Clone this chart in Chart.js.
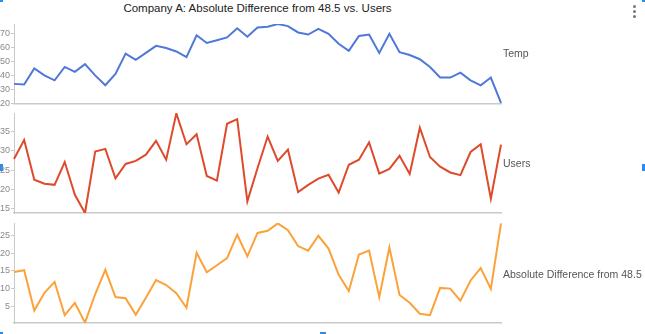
<!DOCTYPE html>
<html>
<head>
<meta charset="utf-8">
<script src="https://cdn.jsdelivr.net/npm/chart.js@4"></script>
<style>
  html, body { margin: 0; padding: 0; background: #fff; }
  body { width: 645px; height: 334px; position: relative; overflow: hidden; font-family: "Liberation Sans", Arial, sans-serif; }
  .panel { position: absolute; left: 0; width: 645px; }
  .title { position: absolute; left: 0; top: 1px; width: 515px; text-align: center; font-size: 11.5px; line-height: 14px; color: #222; }
  .dot { position: absolute; width: 3px; height: 3px; border-radius: 50%; background: #777; left: 633px; }
  .handle { position: absolute; background: #2a8cf0; }
</style>
</head>
<body>
<div class="title">Company A: Absolute Difference from 48.5 vs. Users</div>
<div class="dot" style="top:5px"></div>
<div class="dot" style="top:10px"></div>
<div class="dot" style="top:15px"></div>

<div class="handle" style="left:0;top:0;width:3px;height:2px"></div>
<div class="handle" style="left:642px;top:0;width:3px;height:2px"></div>
<div class="handle" style="left:0;top:164px;width:3px;height:7px"></div>
<div class="handle" style="left:642px;top:164px;width:3px;height:7px"></div>
<div class="handle" style="left:0;top:332px;width:3px;height:2px"></div>
<div class="handle" style="left:320px;top:332px;width:6px;height:2px"></div>

<div class="panel" style="top:0;height:110px"><canvas id="temp" width="645" height="110"></canvas></div>
<div class="panel" style="top:100px;height:120px"><canvas id="users" width="645" height="120"></canvas></div>
<div class="panel" style="top:212px;height:122px"><canvas id="diff" width="645" height="122"></canvas></div>

<script>
// Observation index along the shared horizontal axis
const categories = Array.from({ length: 49 }, (_, i) => String(i + 1));

const tempValues = [34, 33.5, 45, 40, 36.5, 46, 42.5, 48, 40, 33, 41, 55.5, 51, 56, 61, 59.5, 57, 53,
  68.5, 63, 65, 67, 73.5, 67.5, 74, 74.5, 76.5, 75, 70.5, 69, 73, 69.5, 62.5, 57.5, 68, 69, 56, 69.5,
  56.5, 54.5, 51.5, 46, 38.5, 38.5, 42, 36.5, 33, 38.5, 20.5];

const userValues = [27.9, 32.8, 22.5, 21.5, 21.2, 27.1, 18.6, 13.9, 29.8, 30.5, 22.9, 26.6, 27.4, 29,
  32.6, 27.7, 39.7, 31.7, 34.3, 23.5, 22.3, 37, 38.2, 16.9, 25.5, 33.7, 27.4, 30.3, 19.3, 21.2, 22.8,
  23.8, 19.2, 26.4, 27.7, 32.2, 24.1, 25.3, 28.7, 24, 36, 28.4, 25.9, 24.4, 23.7, 29.7, 31.7, 17.6, 31.6];

const diffValues = [14.7, 15.2, 3.8, 8.8, 11.9, 2.5, 6, 0.4, 8.4, 15.3, 7.6, 7.3, 2.6, 7.4, 12.4, 11,
  8.7, 4.6, 20.1, 14.6, 16.6, 18.6, 25.2, 19.1, 25.7, 26.3, 28.4, 26.5, 22, 20.7, 24.9, 21.3, 13.9, 9.3,
  19.6, 20.7, 7.6, 21.6, 8.2, 6, 2.9, 2.5, 10.2, 10, 6.6, 12.3, 15.8, 9.9, 28.4];

const tempTicks = [20, 30, 40, 50, 60, 70];
const userTicks = [15, 20, 25, 30, 35];
const diffTicks = [5, 10, 15, 20, 25];

const AXIS_GREY = '#c9c9c9';
const FONT = "'Liberation Sans', Arial, sans-serif";

// Writes the series name just to the right of the plot area
const sideLabel = {
  id: 'sideLabel',
  afterDraw(chart, args, opts) {
    const { ctx, chartArea } = chart;
    ctx.save();
    ctx.font = `10.5px ${FONT}`;
    ctx.fillStyle = '#555';
    ctx.textAlign = 'left';
    ctx.textBaseline = 'middle';
    ctx.fillText(opts.text, chartArea.right + 2, (chartArea.top + chartArea.bottom) / 2 + opts.dy);
    ctx.restore();
  }
};

function panel(id, label, values, color, ticks, range, pad, dy) {
  return new Chart(document.getElementById(id), {
    type: 'line',
    data: {
      labels: categories,
      datasets: [{
        label,
        data: values,
        borderColor: color,
        borderWidth: 2,
        pointRadius: 0,
        tension: 0,
        fill: false
      }]
    },
    options: {
      responsive: false,
      devicePixelRatio: 1,
      animation: false,
      events: [],
      layout: { padding: { left: 0, right: 144, top: pad.top, bottom: pad.bottom } },
      plugins: {
        legend: { display: false },
        title: { display: false },
        tooltip: { enabled: false },
        sideLabel: { text: label, dy }
      },
      scales: {
        x: {
          type: 'category',
          offset: false,
          grid: { display: false },
          ticks: { display: false },
          border: { display: true, color: AXIS_GREY, width: 1.5 },
          afterFit(s) { s.height = 0; }
        },
        y: {
          min: range[0],
          max: range[1],
          afterBuildTicks(s) { s.ticks = ticks.map(v => ({ value: v })); },
          afterFit(s) { s.width = 14; },
          grid: { display: true, drawOnChartArea: false, drawTicks: true, tickLength: 3, color: AXIS_GREY },
          border: { display: true, color: AXIS_GREY, width: 1 },
          ticks: { padding: 1, color: '#8a8a8a', font: { family: FONT, size: 9 } }
        }
      }
    },
    plugins: [sideLabel]
  });
}

panel('temp', 'Temp', tempValues, '#4f78d8', tempTicks, [20, 76.5], { top: 24, bottom: 6 }, -10);
panel('users', 'Users', userValues, '#de4a2c', userTicks, [13.9, 39.8], { top: 13, bottom: 7 }, 1);
panel('diff', 'Absolute Difference from 48.5', diffValues, '#fba23a', diffTicks, [0.3, 28.5], { top: 11, bottom: 11 }, 2);
</script>
</body>
</html>
